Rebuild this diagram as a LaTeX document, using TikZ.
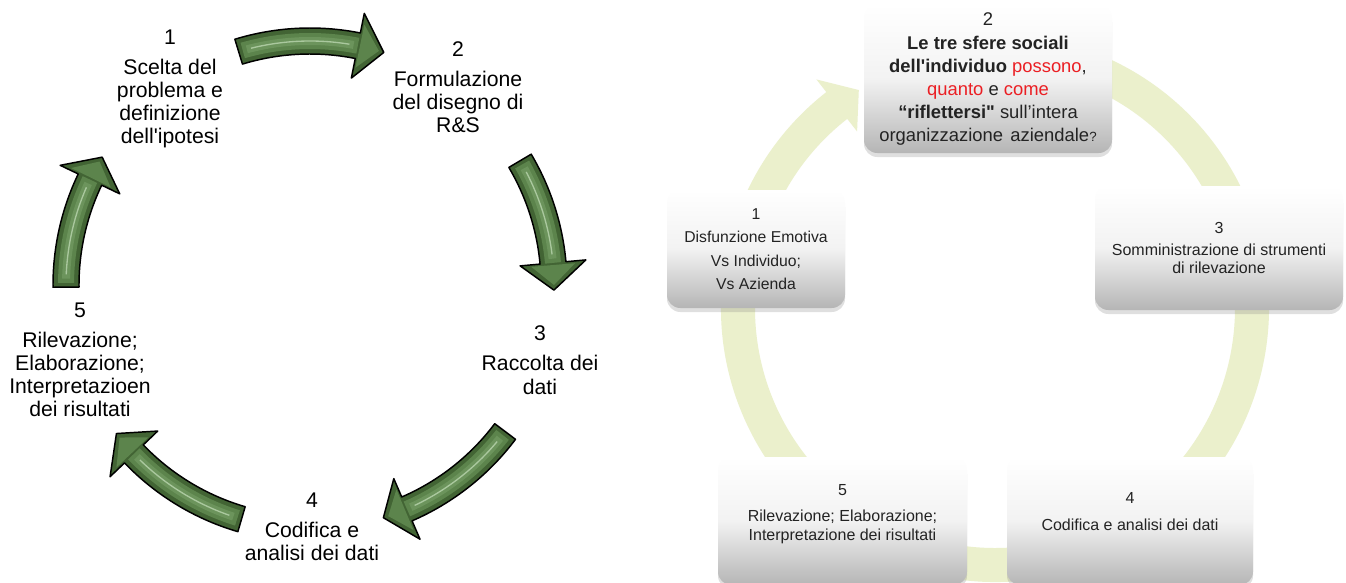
\documentclass[tikz,border=0pt]{standalone}
\usepackage{fontspec}
\setmainfont{Liberation Sans}
\usetikzlibrary{calc,shadows}
\definecolor{agreen}{RGB}{66,100,52}
\definecolor{amid}{RGB}{92,132,76}
\definecolor{amid2}{RGB}{108,148,92}
\definecolor{alight}{RGB}{170,200,158}
\definecolor{ringc}{RGB}{235,240,204}
\definecolor{txt}{RGB}{35,35,35}
\definecolor{qred}{RGB}{235,30,35}
\newcommand{\garrow}[4]{%
  \fill[agreen] ($(#1)+({#2}:257)$) arc[start angle={#2}, end angle={#3}, radius=257]
    -- ($(#1)+({#3}:277)$) -- ($(#1)+({#4}:244)$) -- ($(#1)+({#3}:211)$)
    -- ($(#1)+({#3}:231)$) arc[start angle={#3}, end angle={#2}, radius=231] -- cycle;
  \fill[amid] ($(#1)+({#3-0.5}:266)$) -- ($(#1)+({#4+1.2}:244)$) -- ($(#1)+({#3-0.5}:222)$) -- cycle;
  \draw[amid, line width=12pt] ($(#1)+({#2-1}:244)$) arc[start angle={#2-1}, end angle={#3}, radius=244];
  \draw[amid2, line width=6pt] ($(#1)+({#2-2}:244)$) arc[start angle={#2-2}, end angle={#3+1}, radius=244];
  \draw[alight, line width=1pt] ($(#1)+({#2-3}:244)$) arc[start angle={#2-3}, end angle={#3+2}, radius=244];
  \draw[black, line width=1.1pt, line join=round] ($(#1)+({#2}:257)$) arc[start angle={#2}, end angle={#3}, radius=257]
    -- ($(#1)+({#3}:277)$) -- ($(#1)+({#4}:244)$) -- ($(#1)+({#3}:211)$)
    -- ($(#1)+({#3}:231)$) arc[start angle={#3}, end angle={#2}, radius=231] -- cycle;
}
\begin{document}
\begin{tikzpicture}[x=0.75pt,y=0.75pt,
  lbl/.style={align=center, text=black, font=\fontsize{15.9}{17.3}\selectfont, inner sep=0pt},
  box/.style={rounded corners=10pt, top color=white, bottom color=gray!58, middle color=gray!10,
    drop shadow={shadow xshift=0pt, shadow yshift=-3pt, opacity=0.25},
    align=center, text=txt, inner sep=0pt}]
\useasboundingbox (0,0) rectangle (1346,-582);
\fill[white] (0,0) rectangle (1346,-582);
% ---------- left cycle ----------
\coordinate (lc) at (310,-285);
\garrow{lc}{107}{78.7}{72.4}
\garrow{lc}{30.6}{5.2}{-1.2}
\garrow{lc}{-36.9}{-66.6}{-72.5}
\garrow{lc}{-106.3}{-136.2}{-142.5}
\garrow{lc}{180.5}{154.4}{148.4}
\node[lbl] (t1) at (170,-89) {1\\[5.5pt]Scelta del\\problema e\\definizione\\dell\textquotesingle ipotesi};
\node[lbl] (t2) at (458,-87) {2\\[5.5pt]Formulazione\\del disegno di\\R\&S};
\node[lbl] (t3) at (540,-360) {3\\[5.5pt]Raccolta dei\\dati};
\node[lbl] (t4) at (312,-527) {4\\[5.5pt]Codifica e\\analisi dei dati};
\node[lbl] (t5) at (80,-360) {5\\[5.5pt]Rilevazione;\\Elaborazione;\\Interpretazioen\\dei risultati};
% ---------- right cycle ----------
\coordinate (rc) at (995,-308);
\fill[ringc] ($(rc)+(80:274)$) arc[start angle=80, end angle=-232, radius=274]
  -- ($(rc)+(-232:290)$) -- ($(rc)+(-238:257)$) -- ($(rc)+(-232:224)$)
  -- ($(rc)+(-232:240)$) arc[start angle=-232, end angle=80, radius=240] -- cycle;
\node[box, minimum width=186pt, minimum height=111pt, font=\fontsize{13.8}{17.2}\selectfont] (b2) at (988,-79)
  {2\\[1pt]{\bfseries Le tre sfere sociali}\\{\bfseries dell\textquotesingle individuo} \textcolor{qred}{possono},\\\textcolor{qred}{quanto} e \textcolor{qred}{come}\\{\bfseries “riflettersi\textquotedbl} sull’intera\\organizzazione\hspace{0.4em}aziendale{\fontsize{10}{10}\selectfont ?}};
\node[box, minimum width=133.5pt, minimum height=88.5pt, font=\fontsize{11.8}{17.5}\selectfont] (b1) at (756,-249)
  {1\\Disfunzione Emotiva\\Vs Individuo;\\Vs Azienda};
\node[box, minimum width=186pt, minimum height=93pt, font=\fontsize{12}{13.8}\selectfont] (b3) at (1219,-248)
  {3\\[3pt]Somministrazione di strumenti\\di rilevazione};
\node[box, minimum width=184.5pt, minimum height=96pt, font=\fontsize{12}{14}\selectfont] (b4) at (1130,-521)
  {4\\[6pt]Codifica e analisi dei dati\\[0pt]\mbox{}};
\node[box, minimum width=186.75pt, minimum height=96pt, font=\fontsize{12}{14.5}\selectfont] (b5) at (842.5,-521)
  {5\\[5pt]Rilevazione; Elaborazione;\\Interpretazione dei risultati\\[-2pt]\mbox{}};
\end{tikzpicture}
\end{document}
